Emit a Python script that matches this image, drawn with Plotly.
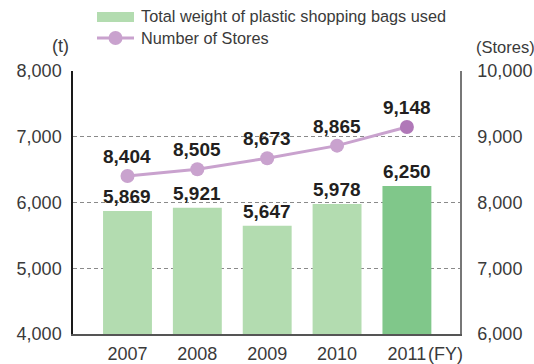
import plotly.graph_objects as go

years = ["2007", "2008", "2009", "2010", "2011"]
bag_weight_t = [5869, 5921, 5647, 5978, 6250]
store_count = [8404, 8505, 8673, 8865, 9148]

left_ticks = [4000, 5000, 6000, 7000, 8000]
right_ticks = [6000, 7000, 8000, 9000, 10000]

BAR_LIGHT = "#b3dcb0"
BAR_DARK = "#80c78a"
LINE_PURPLE = "#c9a2ce"
MARKER_DARK = "#b078b8"
TEXT = "#231f20"
TICK_TEXT = "#3a3a3a"
FONT = "Liberation Sans, Arial, sans-serif"

bar_colors = [BAR_LIGHT] * (len(years) - 1) + [BAR_DARK]
marker_colors = [LINE_PURPLE] * (len(years) - 1) + [MARKER_DARK]

W, H = 534, 364
ML, MR, MT, MB = 73, 74, 71, 30
PW, PH = W - ML - MR, H - MT - MB


def px(x):
    # page pixel -> paper fraction of the plotting area
    return (x - ML) / PW


def py(y):
    return (H - MB - y) / PH


fig = go.Figure()

fig.add_trace(go.Bar(
    x=years, y=bag_weight_t, width=0.7,
    marker=dict(color=bar_colors, line=dict(width=0)),
    yaxis="y", showlegend=False, hoverinfo="skip",
))

fig.add_trace(go.Scatter(
    x=years, y=store_count, mode="lines+markers",
    line=dict(color=LINE_PURPLE, width=3),
    marker=dict(color=marker_colors, size=14, line=dict(width=0)),
    yaxis="y2", showlegend=False, hoverinfo="skip",
))

annotations = []
for i, v in enumerate(bag_weight_t):
    annotations.append(dict(
        x=i, y=v, xref="x", yref="y", text=f"<b>{v:,}</b>", showarrow=False,
        yanchor="bottom", yshift=2,
        font=dict(family=FONT, size=19, color=TEXT),
    ))
for i, v in enumerate(store_count):
    annotations.append(dict(
        x=i, y=v, xref="x", yref="y2", text=f"<b>{v:,}</b>", showarrow=False,
        yanchor="bottom", yshift=7,
        font=dict(family=FONT, size=19, color=TEXT),
    ))

# unit labels, fiscal-year suffix and the legend text
paper_notes = [
    dict(x=60, y=46, text="(t)", xanchor="center", size=18),
    dict(x=505, y=47, text="(Stores)", xanchor="center", size=16.5),
    dict(x=426, y=354, text="(FY)", xanchor="left", size=18),
    dict(x=139, y=16, text="Total weight of plastic shopping bags used", xanchor="left", size=16.3),
    dict(x=139, y=38, text="Number of Stores", xanchor="left", size=16.3),
]
for n in paper_notes:
    annotations.append(dict(
        x=px(n["x"]), y=py(n["y"]), xref="paper", yref="paper",
        text=n["text"], showarrow=False, xanchor=n["xanchor"], yanchor="middle",
        font=dict(family=FONT, size=n["size"], color=TICK_TEXT),
    ))

shapes = [
    # legend swatches
    dict(type="rect", xref="paper", yref="paper",
         x0=px(97), x1=px(134), y0=py(12), y1=py(22),
         fillcolor=BAR_LIGHT, line=dict(width=0)),
    dict(type="line", xref="paper", yref="paper",
         x0=px(97), x1=px(134), y0=py(38), y1=py(38),
         line=dict(color=LINE_PURPLE, width=3)),
    dict(type="circle", xref="paper", yref="paper",
         x0=px(108.5), x1=px(122.5), y0=py(31), y1=py(45),
         fillcolor=LINE_PURPLE, line=dict(width=0)),
]

fig.update_layout(
    width=W, height=H,
    margin=dict(l=ML, r=MR, t=MT, b=MB),
    paper_bgcolor="white", plot_bgcolor="white",
    font=dict(family=FONT, color=TICK_TEXT),
    xaxis=dict(
        type="category", range=[-0.78, 4.76], automargin=False,
        showgrid=False, showline=True, linecolor="#555555", linewidth=1.5,
        ticks="", tickfont=dict(size=18, color=TICK_TEXT),
        ticklabelstandoff=3, zeroline=False,
    ),
    yaxis=dict(
        range=[4000, 8000], tickvals=left_ticks, automargin=False,
        ticktext=[f"{v:,}" for v in left_ticks],
        showgrid=True, gridcolor="#8a8a8a", gridwidth=1, griddash="4px,3px",
        showline=True, linecolor="#1a1a1a", linewidth=1.5,
        ticks="", tickfont=dict(size=18, color=TICK_TEXT),
        ticklabelstandoff=6, zeroline=False,
    ),
    yaxis2=dict(
        range=[6000, 10000], tickvals=right_ticks, automargin=False,
        ticktext=[f"{v:,}" for v in right_ticks],
        overlaying="y", side="right", showgrid=False,
        showline=True, linecolor="#777777", linewidth=1.5,
        ticks="", tickfont=dict(size=18, color=TICK_TEXT),
        ticklabelstandoff=12, zeroline=False,
    ),
    annotations=annotations,
    shapes=shapes,
)

fig.write_html("out.html")
